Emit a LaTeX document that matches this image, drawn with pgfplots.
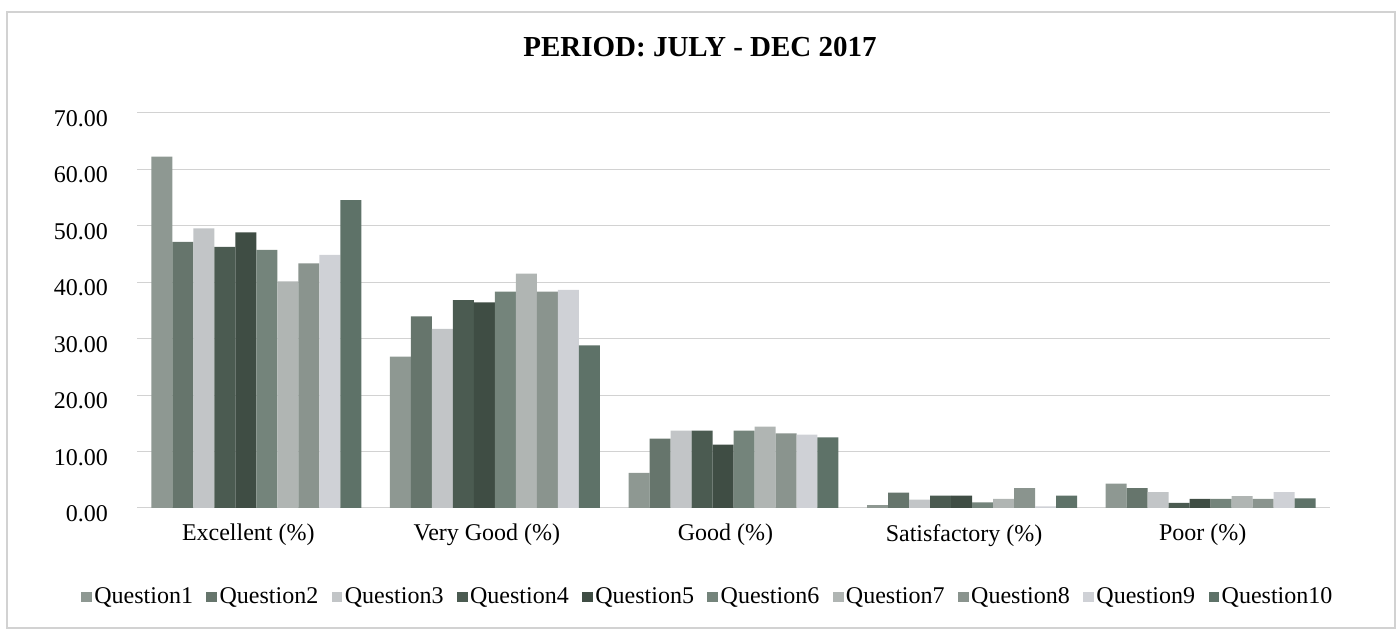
\documentclass[border=0pt]{standalone}
\usepackage{fontspec}
\setmainfont{Liberation Serif}
\usepackage{pgfplots}
\pgfplotsset{compat=1.18}
\definecolor{qa}{HTML}{8E9892}
\definecolor{qb}{HTML}{66756C}
\definecolor{qc}{HTML}{C2C5C7}
\definecolor{qd}{HTML}{4B5B51}
\definecolor{qe}{HTML}{3F4D44}
\definecolor{qf}{HTML}{74847B}
\definecolor{qg}{HTML}{B0B5B3}
\definecolor{qh}{HTML}{8A948E}
\definecolor{qi}{HTML}{CFD1D6}
\definecolor{qj}{HTML}{5E7268}
\begin{document}
\begin{tikzpicture}[x=1pt,y=1pt]
\path[use as bounding box] (0,0) rectangle (700,315);
\draw[gray!35, line width=0.6pt] (3.5,1) rectangle (697.5,309);
\node[font=\fontsize{14.5}{16}\selectfont\bfseries] at (350,291.5) {PERIOD: JULY - DEC 2017};
\begin{axis}[
  at={(68.5pt,61pt)}, anchor=south west,
  scale only axis, width=596.5pt, height=197.75pt,
  xmin=-0.5, xmax=4.5, ymin=0, ymax=70,
  ybar=0pt, bar width=0.088,
  xtick={0,1,2,3,4},
  xticklabels={Excellent (\%), Very Good (\%), Good (\%), Satisfactory (\%), Poor (\%)},
  ytick={0,10,...,70},
  tick label style={font=\fontsize{12}{14}\selectfont},
  yticklabel style={/pgf/number format/fixed, /pgf/number format/fixed zerofill,
    /pgf/number format/precision=2, /pgf/number format/assume math mode=true,
    xshift=-11pt, yshift=-3pt},
  xticklabel style={yshift=-4.6pt, xshift=-4pt},
  ymajorgrids, major grid style={color=gray!35, line width=0.5pt},
  axis line style={draw=none}, major tick length=0pt,
  legend columns=10,
  legend cell align=left,
  legend image code/.code={\fill[#1] (0pt,-2.7pt) rectangle (5.4pt,2.7pt);},
  legend style={at={(0.4786,-0.225)}, anchor=center, draw=none, fill=none,
    font=\fontsize{12}{14}\selectfont, nodes={inner sep=1.2pt},
    /tikz/every even column/.append style={column sep=5.5pt}},
]
\addplot[fill=qa, draw=none] coordinates {(0,62.2) (1,26.8) (2,6.2) (3,0.5) (4,4.3)};
\addplot[fill=qb, draw=none] coordinates {(0,47.1) (1,33.9) (2,12.3) (3,2.7) (4,3.5)};
\addplot[fill=qc, draw=none] coordinates {(0,49.5) (1,31.7) (2,13.7) (3,1.5) (4,2.8)};
\addplot[fill=qd, draw=none] coordinates {(0,46.2) (1,36.8) (2,13.7) (3,2.2) (4,0.9)};
\addplot[fill=qe, draw=none] coordinates {(0,48.8) (1,36.4) (2,11.2) (3,2.2) (4,1.6)};
\addplot[fill=qf, draw=none] coordinates {(0,45.7) (1,38.3) (2,13.7) (3,1.0) (4,1.6)};
\addplot[fill=qg, draw=none] coordinates {(0,40.1) (1,41.5) (2,14.4) (3,1.6) (4,2.1)};
\addplot[fill=qh, draw=none] coordinates {(0,43.3) (1,38.3) (2,13.2) (3,3.5) (4,1.6)};
\addplot[fill=qi, draw=none] coordinates {(0,44.8) (1,38.6) (2,13.0) (3,0.3) (4,2.8)};
\addplot[fill=qj, draw=none] coordinates {(0,54.5) (1,28.8) (2,12.5) (3,2.2) (4,1.7)};
\legend{Question1,Question2,Question3,Question4,Question5,Question6,Question7,Question8,Question9,Question10}
\end{axis}
\end{tikzpicture}
\end{document}
